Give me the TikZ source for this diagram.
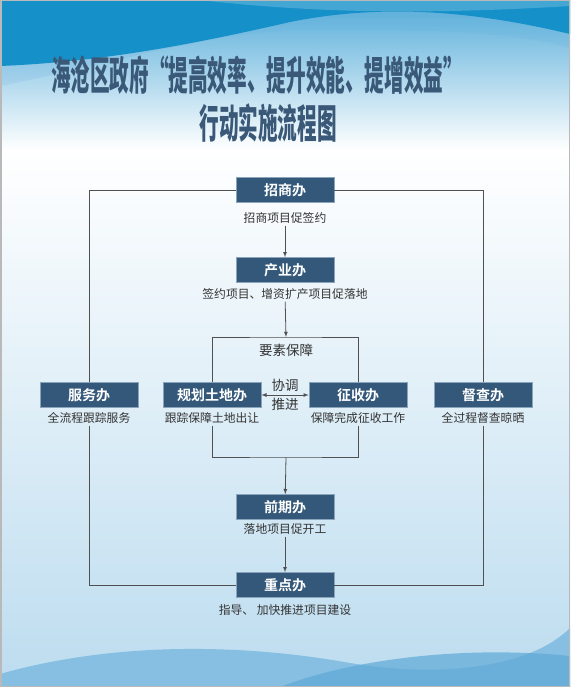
\documentclass[tikz,border=0pt]{standalone}
\usepackage{fontspec}
\setmainfont{Noto Sans CJK SC}[BoldFont={Noto Sans CJK SC Bold}]
\newfontfamily\titlefont{Noto Sans CJK SC Black}
\usepackage{graphicx}
\definecolor{boxcol}{HTML}{34587A}
\definecolor{boxedge}{HTML}{8AA4BC}
\definecolor{titlecol}{HTML}{3A5979}
\definecolor{linecol}{HTML}{505050}
\definecolor{textcol}{HTML}{333333}
\definecolor{skydark}{HTML}{1590C9}
\definecolor{skymid}{HTML}{55ACD9}
\definecolor{skylite}{HTML}{A9D3EC}
\definecolor{seamid}{HTML}{86BFE2}
\definecolor{seadark}{HTML}{5EA9D6}
\definecolor{seafoam}{HTML}{BCDCEF}
\definecolor{sealite}{HTML}{E8F3FA}
\usetikzlibrary{calc}
\newcommand{\titlesq}[1]{\scalebox{0.49}[1]{#1}}

\begin{document}
\begin{tikzpicture}[x=1pt,y=-1pt,>=latex]
  \tikzset{
    deptbox/.style={fill=boxcol,draw=boxedge,line width=0.6pt,text=white,
      minimum width=98pt,minimum height=25pt,inner sep=0pt,
      font=\bfseries\fontsize{14}{14}\selectfont},
    desc/.style={text=textcol,inner sep=2pt,font=\fontsize{11.8}{12}\selectfont},
    bigdesc/.style={text=textcol,inner sep=2pt,font=\fontsize{13.5}{14}\selectfont},
    titletext/.style={text=titlecol,inner sep=0pt,font=\titlefont\fontsize{40}{40}\selectfont},
    flow/.style={draw=linecol,line width=0.8pt}
  }
  \useasboundingbox (0,0) rectangle (570,687);
  % ---------- background : sky above, sea below -------------------
  \shade[top color=skymid,bottom color=white] (0,0) rectangle (570,150);
  \shade[top color=white,middle color=sealite,bottom color=seafoam]
      (0,150) rectangle (570,687);
  \shade[top color=skymid,bottom color=skylite]
      (0,0) -- (0,86) .. controls (120,62) and (210,32) .. (300,30)
      .. controls (400,30) and (500,28) .. (570,48) -- (570,0) -- cycle;
  \fill[skydark] (0,0) -- (0,66) .. controls (100,62) and (190,45) .. (290,22)
      .. controls (380,4) and (470,10) .. (570,34) -- (570,0) -- cycle;
  \fill[white,opacity=0.2] (200,0) .. controls (320,14) and (440,14) .. (570,6)
      -- (570,0) -- cycle;
  \fill[seamid] (0,674) .. controls (120,640) and (250,645) .. (350,663)
      .. controls (440,678) and (530,668) .. (570,628) -- (570,687) -- (0,687) -- cycle;
  \fill[seadark,opacity=0.7] (280,687) .. controls (350,660) and (460,645) .. (570,656)
      -- (570,687) -- cycle;
  % ---------- title ------------------------------------------------
  \node[titletext] (titleA) at (257,75) {\titlesq{海沧区政府“提高效率、提升效能、提增效益”}};
  \node[titletext] (titleB) at (268,123) {\titlesq{行动实施流程图}};
  % ---------- offices ----------------------------------------------
  \node[deptbox] (zhaoshang) at (285,190) {招商办};
  \node[desc] (zhaoshangtxt) at (285,218) {招商项目促签约};
  \node[deptbox] (chanye) at (285,270) {产业办};
  \node[desc] (chanyetxt) at (285,294) {签约项目、增资扩产项目促落地};
  \node[deptbox] (guihua) at (212,395) {规划土地办};
  \node[desc] (guihuatxt) at (212,418) {跟踪保障土地出让};
  \node[deptbox] (zhengshou) at (358,395) {征收办};
  \node[desc] (zhengshoutxt) at (358,418) {保障完成征收工作};
  \node[deptbox] (fuwu) at (89,395) {服务办};
  \node[desc] (fuwutxt) at (89,418) {全流程跟踪服务};
  \node[deptbox] (ducha) at (483,395) {督查办};
  \node[desc] (duchatxt) at (483,418) {全过程督查晾晒};
  \node[deptbox] (qianqi) at (285,507) {前期办};
  \node[desc] (qianqitxt) at (285,529) {落地项目促开工};
  \node[deptbox] (zhongdian) at (285,585) {重点办};
  \node[desc] (zhongdiantxt) at (285,610) {指导、 加快推进项目建设};
  \node[bigdesc] (yaosu) at (286,350) {要素保障};
  \coordinate (ystop) at (286,337);
  \coordinate (ysbot) at (286,457);
  % ---------- connectors -------------------------------------------
  \draw[flow,->] (zhaoshangtxt) -- (chanye);
  \draw[flow,->] (chanyetxt) -- (ystop);
  \draw[flow] (guihua.north) |- (ystop) -| (zhengshou.north);
  \draw[flow] (guihuatxt.south) |- (ysbot) -| (zhengshoutxt.south);
  \draw[flow,<->] (guihua) -- (zhengshou)
      node[bigdesc,midway,above=1pt] (xietiao) {协调}
      node[bigdesc,midway,below=1pt] (tuijin) {推进};
  \draw[flow,->] (ysbot) -- (qianqi);
  \draw[flow,->] (qianqitxt) -- (zhongdian);
  \draw[flow] (zhaoshang.west) -| (fuwu.north);
  \draw[flow] (fuwutxt.south) |- (zhongdian.west);
  \draw[flow] (zhaoshang.east) -| (ducha.north);
  \draw[flow] (duchatxt.south) |- (zhongdian.east);
  % ---------- frame ------------------------------------------------
  \draw[gray!55,line width=1.5pt] (0.75,0.75) rectangle (569.25,686.25);
\end{tikzpicture}
\end{document}
